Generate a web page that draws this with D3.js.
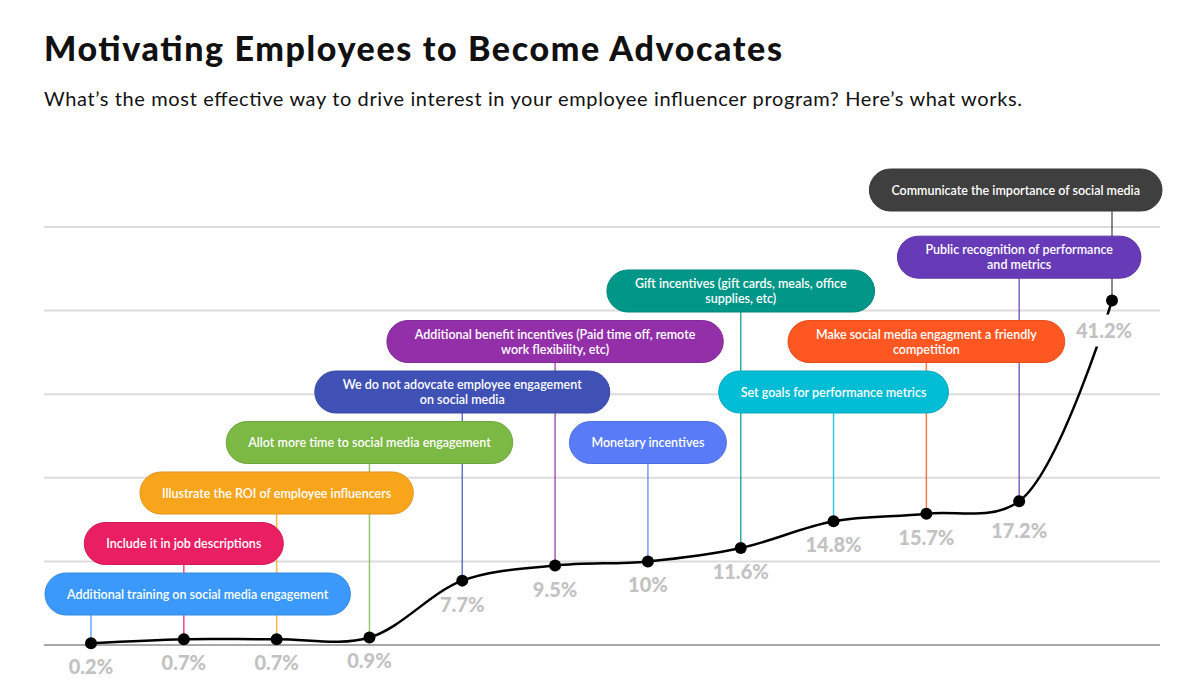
<!DOCTYPE html>
<html>
<head>
<meta charset="utf-8">
<script src="https://cdn.jsdelivr.net/npm/d3@7"></script>
<style>
  html, body { margin: 0; padding: 0; background: #fff; }
  svg { display: block; }
</style>
</head>
<body>
<svg id="chart" width="1200" height="700"></svg>
<script>
const titleText = "Motivating Employees to Become Advocates";
const subtitleText = "What’s the most effective way to drive interest in your employee influencer program? Here’s what works.";

const categories = [
  ["Additional training on social media engagement"],
  ["Include it in job descriptions"],
  ["Illustrate the ROI of employee influencers"],
  ["Allot more time to social media engagement"],
  ["We do not adovcate employee engagement", "on social media"],
  ["Additional benefit incentives (Paid time off, remote", "work flexibility, etc)"],
  ["Monetary incentives"],
  ["Gift incentives (gift cards, meals, office", "supplies, etc)"],
  ["Set goals for performance metrics"],
  ["Make social media engagment a friendly", "competition"],
  ["Public recognition of performance", "and metrics"],
  ["Communicate the importance of social media"]
];
const values = [0.2, 0.7, 0.7, 0.9, 7.7, 9.5, 10, 11.6, 14.8, 15.7, 17.2, 41.2];
const valueLabels = ["0.2%", "0.7%", "0.7%", "0.9%", "7.7%", "9.5%", "10%", "11.6%", "14.8%", "15.7%", "17.2%", "41.2%"];
const boxLevels = [0, 1, 2, 3, 4, 5, 3, 6, 4, 5, 6.67, 8];
const colors = ["#3b99fc", "#e91e63", "#f8a51c", "#7cb844", "#3f51b5", "#932fa9", "#5a7bf7", "#009688", "#00bcd4", "#ff5722", "#673ab7", "#3f3f3f"];
const gridTicks = [0, 10, 20, 30, 40, 50];

const svg = d3.select("#chart");
const FONT = "Lato, 'Open Sans', sans-serif";

svg.append("text").attr("x", 44).attr("y", 61)
  .attr("font-family", FONT).attr("font-weight", 900).attr("font-size", 34)
  .attr("textLength", 738).attr("lengthAdjust", "spacing")
  .attr("fill", "#111").text(titleText);
svg.append("text").attr("x", 44).attr("y", 106)
  .attr("font-family", FONT).attr("font-size", 20)
  .attr("textLength", 978).attr("lengthAdjust", "spacing")
  .attr("fill", "#111").text(subtitleText);

const x = d3.scalePoint().domain(d3.range(values.length)).range([91, 1112]);
const y = d3.scaleLinear().domain([0, 50]).range([645, 227]);
const level = d3.scaleLinear().domain([0, 8]).range([573, 169]);
const boxH = 42;
const plotLeft = 44, plotRight = 1160, boxMinX = 45, boxMaxX = 1162;
const last = values.length - 1;

// grid
const grid = svg.append("g");
grid.selectAll("line").data(gridTicks).join("line")
  .attr("x1", plotLeft).attr("x2", plotRight)
  .attr("y1", d => y(d)).attr("y2", d => y(d))
  .attr("stroke", d => d === 0 ? "#a8a8a8" : "#dcdcdc")
  .attr("stroke-width", 2);

// stems
const stems = svg.append("g");
stems.selectAll("line").data(values).join("line")
  .attr("x1", (d, i) => x(i)).attr("x2", (d, i) => x(i))
  .attr("y1", (d, i) => level(boxLevels[i]) + boxH)
  .attr("y2", d => y(d))
  .attr("stroke", (d, i) => colors[i]).attr("stroke-opacity", 0.8)
  .attr("stroke-width", 1.5);

// curve
const line = d3.line().x((d, i) => x(i)).y(d => y(d)).curve(d3.curveCatmullRom.alpha(0.5));
svg.append("path").datum(values).attr("d", line)
  .attr("fill", "none").attr("stroke", "#000").attr("stroke-width", 2.5);

// value labels
const lab = svg.append("g").selectAll("g").data(values).join("g");
lab.each(function (d, i) {
  const g = d3.select(this);
  const lx = x(i) - (i === last ? 8 : 0);
  const ly = y(d) + (i >= last - 1 ? 30 : 24);
  const t = g.append("text")
    .attr("x", lx).attr("y", ly + 7)
    .attr("text-anchor", "middle")
    .attr("font-family", FONT).attr("font-weight", 900).attr("font-size", 20)
    .attr("fill", "#c2c2c2")
    .text(valueLabels[i]);
  if (i === last) {
    const w = t.node().getComputedTextLength();
    g.insert("rect", "text")
      .attr("x", lx - w / 2 - 4).attr("y", ly - 16)
      .attr("width", w + 8).attr("height", 32)
      .attr("fill", "#fff");
  }
});

svg.append("g").selectAll("circle").data(values).join("circle")
  .attr("cx", (d, i) => x(i)).attr("cy", d => y(d)).attr("r", 6).attr("fill", "#000");

// boxes
const boxes = svg.append("g").selectAll("g").data(categories).join("g");
boxes.each(function (lines, i) {
  const g = d3.select(this);
  const t = g.append("text")
    .attr("font-family", FONT).attr("font-weight", 600).attr("font-size", 12.5)
    .attr("fill", "#fff").attr("text-anchor", "middle");
  lines.forEach((ln) => t.append("tspan").text(ln));
  const widths = t.selectAll("tspan").nodes().map(n => n.getComputedTextLength());
  const pad = lines.length > 1 ? 28 : 22;
  const w = d3.max(widths) + pad * 2;
  let cx = x(i);
  let x0 = cx - w / 2;
  if (x0 < boxMinX) x0 = boxMinX;
  if (x0 + w > boxMaxX) x0 = boxMaxX - w;
  cx = x0 + w / 2;
  const top = level(boxLevels[i]);
  g.insert("rect", "text")
    .attr("x", x0).attr("y", top).attr("width", w).attr("height", boxH)
    .attr("rx", boxH / 2).attr("fill", colors[i])
    .attr("stroke", d3.color(colors[i]).darker(0.3)).attr("stroke-width", 1);
  const lh = 15;
  const startY = top + boxH / 2 - (lines.length - 1) * lh / 2 + 4.5;
  t.selectAll("tspan").attr("x", cx).attr("y", (d, k) => startY + k * lh);
});
</script>
</body>
</html>
